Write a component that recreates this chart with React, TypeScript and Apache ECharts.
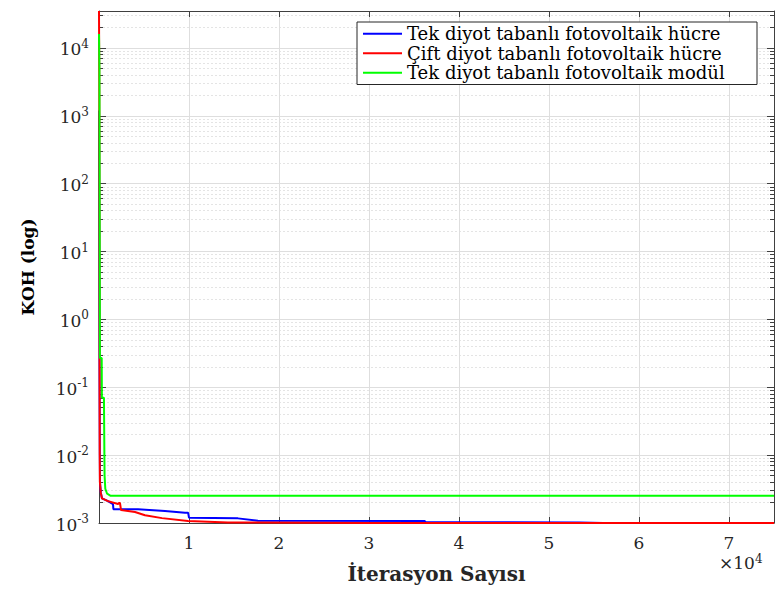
import React, { useEffect, useRef } from "react";
import * as echarts from "echarts";

// ---- Data ----
const seriesNames = [
  "Tek diyot tabanlı fotovoltaik hücre",
  "Çift diyot tabanlı fotovoltaik hücre",
  "Tek diyot tabanlı fotovoltaik modül",
];
const seriesColors = ["#0000ff", "#ff0000", "#00ff00"];

const blueIter = [0, 40, 70, 90, 110, 200, 333, 1000, 1555, 1600, 4330, 7330, 9550, 9900, 10000, 15440, 17660, 36200, 36300, 53400, 56000, 75000];
const blueKoh = [1200, 1, 0.05, 0.01, 0.004, 0.0028, 0.0023, 0.0021, 0.0019, 0.0016, 0.0016, 0.0015, 0.00142, 0.00142, 0.0012, 0.00117, 0.00108, 0.00107, 0.00103, 0.00102, 0.001, 0.001];

const redIter = [0, 30, 60, 80, 100, 200, 333, 1000, 2110, 2200, 2330, 2450, 4000, 5110, 7000, 9890, 14330, 30000, 75000];
const redKoh = [35000, 3000, 0.3, 0.01, 0.004, 0.0028, 0.0023, 0.0021, 0.0019, 0.00197, 0.00197, 0.00155, 0.00145, 0.0013, 0.00118, 0.00107, 0.00102, 0.001, 0.001];

const greenIter = [0, 50, 100, 300, 320, 550, 600, 620, 700, 900, 1300, 75000];
const greenKoh = [16000, 5000, 0.27, 0.27, 0.07, 0.07, 0.01, 0.005, 0.0032, 0.0027, 0.00252, 0.00252];

const xTickValues = [10000, 20000, 30000, 40000, 50000, 60000, 70000];
const yExponents = [-3, -2, -1, 0, 1, 2, 3, 4];
const minorMultipliers = [2, 3, 4, 5, 6, 7, 8, 9];
const xMin = 0;
const xMax = 75000;
const yMin = 1e-3;
const yMax = 35000;

const zip = (xs: number[], ys: number[]) => xs.map((x, i) => [x, ys[i]]);

const FONT = "DejaVu Serif";
const AXIS_COLOR = "#404040";

export default function App() {
  const ref = useRef<HTMLDivElement>(null);

  useEffect(() => {
    if (!ref.current) return;
    const chart = echarts.init(ref.current, undefined, { renderer: "svg" });

    const yMajor = yExponents.map((e) => Math.pow(10, e));
    const yMinor: number[] = [];
    yExponents.forEach((e) => {
      minorMultipliers.forEach((m) => {
        const v = m * Math.pow(10, e);
        if (v <= yMax) yMinor.push(v);
      });
    });

    const richExp = {
      b: { fontSize: 17, fontFamily: FONT, color: "#262626", verticalAlign: "bottom" as const },
      s: { fontSize: 12, fontFamily: FONT, color: "#262626", verticalAlign: "bottom" as const, padding: [0, 0, 8, 0] },
    };

    const baseY = {
      type: "log" as const,
      logBase: 10,
      min: yMin,
      max: yMax,
      gridIndex: 0,
    };
    const baseX = {
      type: "value" as const,
      min: xMin,
      max: xMax,
      gridIndex: 0,
    };

    const option: any = {
      animation: false,
      grid: {
        left: 99,
        top: 11,
        right: 1,
        bottom: 66,
        containLabel: false,
        outerBoundsMode: "none",
      },
      legend: {
        data: seriesNames,
        orient: "vertical",
        left: 357,
        top: 22,
        icon: "rect",
        itemWidth: 39,
        itemHeight: 2,
        itemGap: 0,
        padding: [2, 5, 2, 6],
        backgroundColor: "#ffffff",
        borderColor: "#262626",
        borderWidth: 1,
        borderRadius: 0,
        textStyle: { fontFamily: FONT, fontSize: 18, color: "#000", lineHeight: 19.5, width: 345 },
      },
      xAxis: [
        {
          ...baseX,
          position: "bottom",
          name: "İterasyon Sayısı",
          nameLocation: "middle",
          nameGap: 41,
          nameTextStyle: { fontFamily: FONT, fontSize: 20, fontWeight: "bold", color: "#262626" },
          axisLine: { show: true, lineStyle: { color: AXIS_COLOR, width: 1 } },
          axisTick: { show: true, inside: true, length: 6, customValues: xTickValues, lineStyle: { color: AXIS_COLOR } },
          axisLabel: {
            show: true,
            customValues: xTickValues,
            margin: 11,
            fontFamily: FONT,
            fontSize: 17,
            color: "#262626",
            formatter: (v: number) => String(Math.round(v / 10000)),
          },
          splitLine: { show: true, lineStyle: { color: "#dedede", width: 1, type: "solid" } },
        },
        {
          ...baseX,
          position: "top",
          axisLine: { show: true, lineStyle: { color: AXIS_COLOR, width: 1 } },
          axisTick: { show: true, inside: true, length: 6, customValues: xTickValues, lineStyle: { color: AXIS_COLOR } },
          axisLabel: { show: false },
          splitLine: { show: false },
        },
      ],
      yAxis: [
        {
          ...baseY,
          position: "left",
          name: "KOH (log)",
          nameLocation: "middle",
          nameGap: 63,
          nameTextStyle: { fontFamily: FONT, fontSize: 17, fontWeight: "bold", color: "#000" },
          axisLine: { show: true, lineStyle: { color: AXIS_COLOR, width: 1 } },
          axisTick: { show: true, inside: true, length: 7, customValues: yMajor, lineStyle: { color: AXIS_COLOR } },
          axisLabel: {
            show: true,
            customValues: yMajor,
            margin: 10,
            formatter: (v: number) => `{b|10}{s|${Math.round(Math.log10(v))}}`,
            rich: richExp,
          },
          splitLine: { show: true, lineStyle: { color: "#dedede", width: 1, type: "solid" } },
        },
        {
          ...baseY,
          position: "left",
          axisLine: { show: false },
          axisTick: { show: true, inside: true, length: 4, customValues: yMinor, lineStyle: { color: AXIS_COLOR } },
          axisLabel: { show: false },
          splitLine: { show: true, lineStyle: { color: "#e4e4e4", width: 1, type: [2, 2] } },
        },
        {
          ...baseY,
          position: "right",
          axisLine: { show: true, lineStyle: { color: AXIS_COLOR, width: 1 } },
          axisTick: { show: true, inside: true, length: 7, customValues: yMajor, lineStyle: { color: AXIS_COLOR } },
          axisLabel: { show: false },
          splitLine: { show: false },
        },
        {
          ...baseY,
          position: "right",
          axisLine: { show: false },
          axisTick: { show: true, inside: true, length: 4, customValues: yMinor, lineStyle: { color: AXIS_COLOR } },
          axisLabel: { show: false },
          splitLine: { show: false },
        },
      ],
      graphic: [
        {
          type: "text",
          left: 719,
          top: 553,
          style: {
            text: "×10{s|4}",
            fontFamily: FONT,
            fontSize: 17,
            fill: "#262626",
            rich: {
              s: { fontSize: 12, fontFamily: FONT, fill: "#262626", verticalAlign: "bottom", padding: [0, 0, 8, 0] },
            },
          },
        },
      ],
      series: [
        { name: seriesNames[0], data: zip(blueIter, blueKoh), color: seriesColors[0] },
        { name: seriesNames[1], data: zip(redIter, redKoh), color: seriesColors[1] },
        { name: seriesNames[2], data: zip(greenIter, greenKoh), color: seriesColors[2] },
      ].map((s) => ({
        type: "line",
        name: s.name,
        data: s.data,
        xAxisIndex: 0,
        yAxisIndex: 0,
        showSymbol: false,
        symbol: "none",
        clip: true,
        itemStyle: { color: s.color },
        lineStyle: { color: s.color, width: 2 },
      })),
    };

    chart.setOption(option);
    return () => chart.dispose();
  }, []);

  return (
    <div
      ref={ref}
      style={{ position: "absolute", left: 0, top: 0, width: 775, height: 589, background: "#fff" }}
    />
  );
}
